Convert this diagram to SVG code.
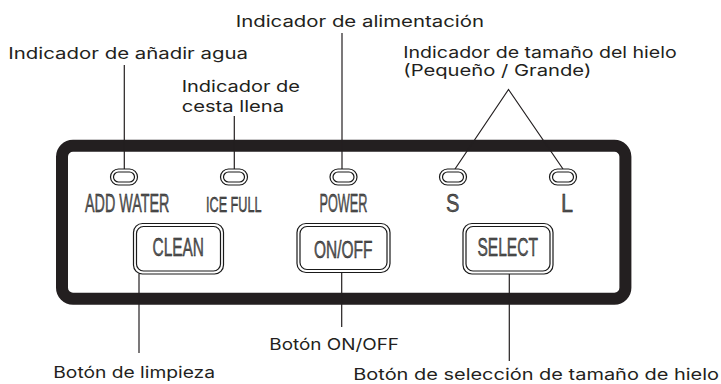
<svg xmlns="http://www.w3.org/2000/svg" width="721" height="384" viewBox="0 0 721 384">
<style>
.lbl{font-family:Inter,"Open Sans","Liberation Sans",sans-serif;font-size:16px;fill:#231f20}
.pl{font-family:"Liberation Sans",Arial,sans-serif;fill:#5a5a5a;stroke:#111;stroke-width:0.45}
.lead{stroke:#231f20;stroke-width:1.2;fill:none}
.led rect,.btn rect{fill:#fff;stroke:#1a1a1a;stroke-width:1.2}
</style>
<rect width="721" height="384" fill="#fff"/>
<g id="panel">
<rect x="62" y="145.8" width="563.4" height="152.9" rx="11" fill="#fff" stroke="#231f20" stroke-width="12"/>
</g>
<g id="connectors">
<line class="lead" x1="124.3" y1="65" x2="124.3" y2="169"/>
<line class="lead" x1="234.3" y1="116" x2="234.3" y2="169"/>
<line class="lead" x1="342" y1="33" x2="342" y2="169"/>
<polyline class="lead" points="455,169 508.5,89.5 563,169"/>
<line class="lead" x1="139" y1="274" x2="139" y2="353"/>
<line class="lead" x1="341.7" y1="272" x2="341.7" y2="327"/>
<line class="lead" x1="509.3" y1="274" x2="509.3" y2="361"/>
</g>
<g id="led-add-water" class="led">
<rect x="110.5" y="169" width="27" height="16" rx="8"/>
<rect x="113.5" y="172" width="21" height="10" rx="5"/>
<text class="pl" font-size="26.5" transform="translate(85,211.7) scale(0.541,1)">ADD WATER</text>
</g>
<g id="led-ice-full" class="led">
<rect x="220.5" y="169" width="27" height="16" rx="8"/>
<rect x="223.5" y="172" width="21" height="10" rx="5"/>
<text class="pl" font-size="22" transform="translate(206,211.7) scale(0.575,1)">ICE FULL</text>
</g>
<g id="led-power" class="led">
<rect x="330" y="169" width="27" height="16" rx="8"/>
<rect x="333" y="172" width="21" height="10" rx="5"/>
<text class="pl" font-size="26.5" transform="translate(319.5,211.7) scale(0.48,1)">POWER</text>
</g>
<g id="led-s" class="led">
<rect x="439.5" y="169" width="27" height="16" rx="8"/>
<rect x="442.5" y="172" width="21" height="10" rx="5"/>
<text class="pl" font-size="26.5" transform="translate(446,211.7) scale(0.76,1)">S</text>
</g>
<g id="led-l" class="led">
<rect x="549.5" y="169" width="27" height="16" rx="8"/>
<rect x="552.5" y="172" width="21" height="10" rx="5"/>
<text class="pl" font-size="26.5" transform="translate(561,211.7) scale(0.82,1)">L</text>
</g>
<g id="btn-clean" class="btn">
<rect x="133.5" y="223.5" width="90" height="50.5" rx="9"/>
<rect x="136.5" y="226.5" width="84" height="44.5" rx="7"/>
<text class="pl" font-size="26" transform="translate(152.5,255.5) scale(0.594,1)">CLEAN</text>
</g>
<g id="btn-onoff" class="btn">
<rect x="297" y="223.5" width="93" height="49" rx="9"/>
<rect x="300" y="226.5" width="87" height="43" rx="7"/>
<text class="pl" font-size="24" transform="translate(314,258) scale(0.645,1)">ON/OFF</text>
</g>
<g id="btn-select" class="btn">
<rect x="463" y="223.5" width="90" height="50.5" rx="9"/>
<rect x="466" y="226.5" width="84" height="44.5" rx="7"/>
<text class="pl" font-size="26" transform="translate(477.5,256) scale(0.598,1)">SELECT</text>
</g>
<g id="labels">
<text class="lbl" x="235.7" y="26.7" textLength="248.3" lengthAdjust="spacingAndGlyphs">Indicador de alimentación</text>
<text class="lbl" x="8.3" y="59.3" textLength="239.7" lengthAdjust="spacingAndGlyphs">Indicador de añadir agua</text>
<text class="lbl" x="181.7" y="91.7" textLength="118.3" lengthAdjust="spacingAndGlyphs">Indicador de</text>
<text class="lbl" x="181.7" y="111.7" textLength="102.3" lengthAdjust="spacingAndGlyphs">cesta llena</text>
<text class="lbl" x="403.3" y="57.6" font-size="15.2" textLength="273.4" lengthAdjust="spacingAndGlyphs">Indicador de tamaño del hielo</text>
<text class="lbl" x="403.3" y="76" font-size="15.2" textLength="188" lengthAdjust="spacingAndGlyphs">(Pequeño / Grande)</text>
<text class="lbl" x="53.3" y="378" textLength="161.7" lengthAdjust="spacingAndGlyphs">Botón de limpieza</text>
<text class="lbl" x="269.3" y="349.5" textLength="129.7" lengthAdjust="spacingAndGlyphs">Botón ON/OFF</text>
<text class="lbl" x="353.3" y="379.5" textLength="365.7" lengthAdjust="spacingAndGlyphs">Botón de selección de tamaño de hielo</text>
</g>
</svg>
